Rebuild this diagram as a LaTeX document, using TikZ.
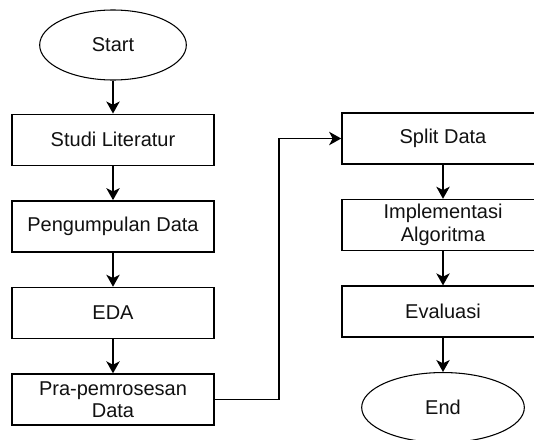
\documentclass[tikz,border=0pt]{standalone}
\usepackage{fontspec}
\setmainfont{Liberation Sans}
\usepackage{xcolor}
\usetikzlibrary{arrows.meta,positioning,shapes.geometric}
\definecolor{ink}{HTML}{000000}
\definecolor{txt}{HTML}{111111}
\tikzset{
  procbox/.style={
    rectangle, draw=ink, fill=white, line width=1.2pt,
    minimum width=151.5pt, minimum height=38.25pt,
    font=\fontsize{15}{17}\selectfont, text=txt, align=center,
    inner sep=0pt
  },
  termnode/.style={
    ellipse, draw=ink, fill=white, line width=0.8pt,
    minimum width=#1, minimum height=52.5pt,
    font=\fontsize{15}{17}\selectfont, text=txt, inner sep=0pt
  },
  termnode/.default=110pt,
  flowarrow/.style={
    -{Stealth[length=9pt, width=10pt, inset=2.5pt]}, line width=1.2pt, color=ink
  },
}

\begin{document}
\begin{tikzpicture}[x=0.75pt, y=-0.75pt, node distance=25.5pt]
  \useasboundingbox (0,0) rectangle (534,439);
  % left column
  \node[termnode] at (113,45) (start) {Start};
  \node[procbox, below=24.75pt of start] (studi) {Studi Literatur};
  \node[procbox, below=of studi] (kumpul) {Pengumpulan Data};
  \node[procbox, below=of kumpul] (eda) {EDA};
  \node[procbox, below=of eda] (prapros) {Pra-pemrosesan\\Data};
  % right column
  \node[procbox] at (443,138.5) (split) {Split Data};
  \node[procbox, below=of split] (impl) {Implementasi\\Algoritma};
  \node[procbox, below=of impl] (eval) {Evaluasi};
  \node[termnode=122pt, below=of eval] (end) {End};

  \draw[flowarrow] (start) -- (studi);
  \draw[flowarrow] (studi) -- (kumpul);
  \draw[flowarrow] (kumpul) -- (eda);
  \draw[flowarrow] (eda) -- (prapros);
  \draw[flowarrow] (prapros.east) -- ++(64,0) |- (split.west);
  \draw[flowarrow] (split) -- (impl);
  \draw[flowarrow] (impl) -- (eval);
  \draw[flowarrow] (eval) -- (end);
\end{tikzpicture}
\end{document}
